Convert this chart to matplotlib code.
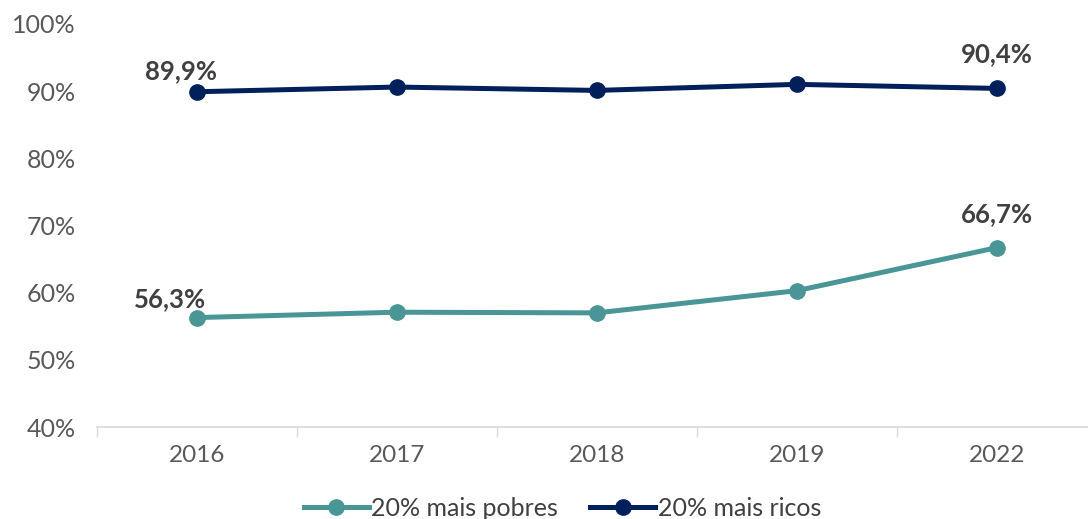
import matplotlib.pyplot as plt
import numpy as np

YEARS = ["2016", "2017", "2018", "2019", "2022"]
POOR = [56.3, 57.1, 57.0, 60.3, 66.7]
RICH = [89.9, 90.6, 90.1, 91.0, 90.4]
POOR_LABEL = "20% mais pobres"
RICH_LABEL = "20% mais ricos"
Y_TICKS = [40, 50, 60, 70, 80, 90, 100]

TEAL = "#4A9595"
NAVY = "#00205B"


def main():
    plt.rcParams['font.family'] = ['Lato', 'DejaVu Sans']
    fig = plt.figure(figsize=(10.88, 5.19), dpi=100)
    ax = fig.add_axes([0.089, 0.177, 0.919, 0.777])

    x = np.arange(len(YEARS))
    ax.plot(x, POOR, '-o', color=TEAL, lw=3.6, ms=11, label=POOR_LABEL)
    ax.plot(x, RICH, '-o', color=NAVY, lw=3.6, ms=11, label=RICH_LABEL)

    # labels only on first and last point
    for i, dx, dy in [(0, -16, 21), (4, 0, 34)]:
        ax.annotate(f"{RICH[i]:.1f}%".replace(".", ","), (x[i], RICH[i]),
                    xytext=(dx * 0.72, dy * 0.72), textcoords="offset points",
                    ha="center", va="center", fontsize=18.5, fontweight="bold",
                    color="#404040")
    for i, dx, dy in [(0, -27, 18), (4, 0, 34)]:
        ax.annotate(f"{POOR[i]:.1f}%".replace(".", ","), (x[i], POOR[i]),
                    xytext=(dx * 0.72, dy * 0.72), textcoords="offset points",
                    ha="center", va="center", fontsize=18.5, fontweight="bold",
                    color="#404040")

    ax.set_xlim(-0.5, 4.5)
    ax.set_ylim(40, 100)
    ax.set_yticks(Y_TICKS)
    ax.set_yticklabels([f"{v}%" for v in Y_TICKS])
    ax.set_xticks(x)
    ax.set_xticklabels(YEARS)
    ax.set_xticks(np.arange(-0.5, 5, 1), minor=True)
    ax.tick_params(axis='x', which='major', length=0, pad=13, labelsize=17.5,
                   labelcolor="#595959")
    ax.tick_params(axis='x', which='minor', length=7, width=1, color="#D9D9D9")
    ax.tick_params(axis='y', length=0, pad=15, labelsize=18, labelcolor="#595959")

    for s in ['top', 'right', 'left']:
        ax.spines[s].set_visible(False)
    ax.spines['bottom'].set_color("#D9D9D9")
    ax.spines['bottom'].set_linewidth(1.2)

    fig.legend(loc="lower center", bbox_to_anchor=(0.517, -0.045), ncol=2,
               frameon=False, fontsize=18, labelcolor="#404040",
               handlelength=2.6, handletextpad=0.1, columnspacing=1.3)

    fig.savefig("out.png", dpi=100)


if __name__ == "__main__":
    main()
